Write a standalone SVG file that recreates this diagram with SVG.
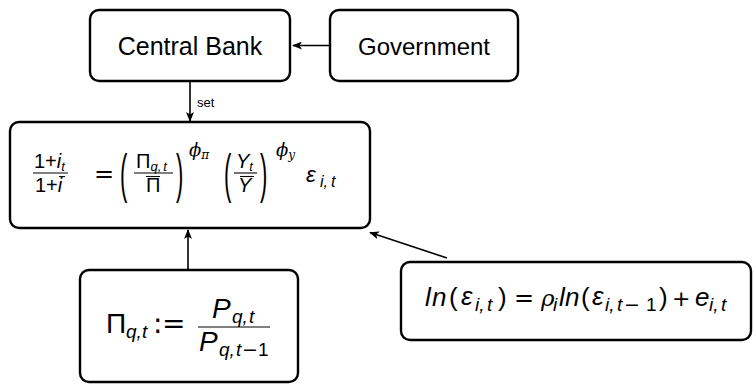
<svg xmlns="http://www.w3.org/2000/svg" width="754" height="385" viewBox="0 0 754 385">
  <defs>
    <marker id="arrow" viewBox="0 0 10 8" refX="9" refY="4" markerWidth="10" markerHeight="8" markerUnits="userSpaceOnUse" orient="auto">
      <path d="M0,0 L10,4 L0,8 L2.5,4 Z" fill="#000"/>
    </marker>
  </defs>
  <style>
    .box { fill: #fff; stroke: #000; stroke-width: 2.4; }
    .edge { fill: none; stroke: #000; stroke-width: 1.6; marker-end: url(#arrow); }
    .lbl { font-family: "Liberation Sans", Arial, sans-serif; fill: #000; }
    .up { font-family: "Liberation Sans", Arial, sans-serif; fill: #000; }
    .it { font-family: "Liberation Sans", Arial, sans-serif; font-style: italic; fill: #000; }
    .op { font-family: "DejaVu Sans", sans-serif; fill: #000; }
    .gk { font-family: "DejaVu Serif", serif; font-style: italic; fill: #000; }
    .bar { stroke: #000; stroke-width: 1.1; }
  </style>

  <!-- connectors -->
  <g id="connectors">
    <line class="edge" x1="330" y1="45.5" x2="293" y2="45.5"/>
    <line class="edge" x1="190" y1="81" x2="190" y2="121"/>
    <text class="lbl" x="197" y="107" font-size="13">set</text>
    <line class="edge" x1="188" y1="270" x2="188" y2="230"/>
    <line class="edge" x1="447" y1="258" x2="370" y2="232.5"/>
  </g>

  <!-- Central Bank -->
  <g id="central-bank">
    <rect class="box" x="90" y="10" width="200" height="71" rx="9"/>
    <text class="lbl" x="190" y="55" font-size="25" text-anchor="middle">Central Bank</text>
  </g>

  <!-- Government -->
  <g id="government">
    <rect class="box" x="330" y="10" width="188" height="71" rx="9"/>
    <text class="lbl" x="424" y="55" font-size="24" text-anchor="middle">Government</text>
  </g>

  <!-- Taylor rule -->
  <g id="taylor-rule">
    <rect class="box" x="10" y="122" width="360" height="106" rx="9"/>
    <!-- (1+i_t)/(1+i bar) -->
    <text font-size="20"><tspan class="up" x="34" y="168">1+</tspan><tspan class="it">i</tspan><tspan class="it" font-size="13" dy="3">t</tspan></text>
    <line class="bar" x1="33" y1="173" x2="68" y2="173"/>
    <text font-size="20"><tspan class="up" x="35" y="192">1+</tspan><tspan class="it">i</tspan></text>
    <line class="bar" x1="59" y1="176.5" x2="65" y2="176.5"/>
    <text class="op" x="94" y="182" font-size="24">=</text>
    <!-- (Pi_{q,t} / Pi bar)^phi_pi -->
    <text class="up" font-size="22" transform="translate(120,192) scale(1,2.4)">(</text>
    <text font-size="20"><tspan class="up" x="136" y="168">Π</tspan><tspan class="it" font-size="13" dy="3">q,</tspan><tspan class="it" font-size="13" dx="2">t</tspan></text>
    <line class="bar" x1="134" y1="173" x2="173" y2="173"/>
    <text class="up" x="146" y="192" font-size="20">Π</text>
    <line class="bar" x1="146" y1="176.5" x2="160" y2="176.5"/>
    <text class="up" font-size="22" transform="translate(176,192) scale(1,2.4)">)</text>
    <text font-size="18"><tspan class="gk" x="189" y="156">ϕ</tspan><tspan class="gk" font-size="12" dy="3">π</tspan></text>
    <!-- (Y_t / Y bar)^phi_y -->
    <text class="up" font-size="22" transform="translate(224,192) scale(1,2.4)">(</text>
    <text font-size="20"><tspan class="it" x="236" y="168">Y</tspan><tspan class="it" font-size="13" dy="3">t</tspan></text>
    <line class="bar" x1="234" y1="173" x2="257" y2="173"/>
    <text class="it" x="238" y="192" font-size="20">Y</text>
    <line class="bar" x1="240" y1="176.5" x2="254" y2="176.5"/>
    <text class="up" font-size="22" transform="translate(260,192) scale(1,2.4)">)</text>
    <text font-size="18"><tspan class="gk" x="276" y="156">ϕ</tspan><tspan class="gk" font-size="12" dy="3">y</tspan></text>
    <!-- eps_{i,t} -->
    <text font-size="22"><tspan class="it" x="306" y="182">ε</tspan><tspan class="it" font-size="16" x="320" dy="5">i,</tspan><tspan class="it" font-size="16" x="331">t</tspan></text>
  </g>

  <!-- inflation definition -->
  <g id="inflation">
    <rect class="box" x="80" y="270" width="218" height="112" rx="9"/>
    <text font-size="28"><tspan class="up" x="106" y="333">Π</tspan><tspan class="it" font-size="19" x="126" dy="5">q,</tspan><tspan class="it" font-size="19" x="142">t</tspan></text>
    <text class="op" x="153" y="333" font-size="28">:</text>
    <text class="op" x="162" y="333" font-size="28">=</text>
    <text font-size="28"><tspan class="it" x="212" y="318">P</tspan><tspan class="it" font-size="19" x="232" dy="5">q,</tspan><tspan class="it" font-size="19" x="249">t</tspan></text>
    <line class="bar" x1="198" y1="327" x2="270" y2="327" stroke-width="1.3"/>
    <text font-size="28"><tspan class="it" x="199" y="351">P</tspan><tspan class="it" font-size="19" x="219" dy="5">q,</tspan><tspan class="it" font-size="19" x="236">t</tspan><tspan class="op" font-size="19" x="242">−</tspan><tspan class="up" font-size="19" x="258">1</tspan></text>
  </g>

  <!-- shock process -->
  <g id="shock">
    <rect class="box" x="401" y="262" width="350" height="78" rx="9"/>
    <text font-size="26">
      <tspan class="it" x="425" y="306">l</tspan>
      <tspan class="it" x="432" y="306">n</tspan>
      <tspan class="up" x="449" y="306">(</tspan>
      <tspan class="it" x="461" y="305">ε</tspan>
      <tspan class="it" font-size="19" x="475" y="311">i,</tspan>
      <tspan class="it" font-size="19" x="487" y="311">t</tspan>
      <tspan class="up" x="498" y="306">)</tspan>
      <tspan class="op" font-size="24" x="514" y="306">=</tspan>
      <tspan class="gk" font-size="23" x="541" y="306">ρ</tspan>
      <tspan class="it" font-size="19" x="553" y="311">i</tspan>
      <tspan class="it" x="559" y="306">l</tspan>
      <tspan class="it" x="565" y="306">n</tspan>
      <tspan class="up" x="581" y="306">(</tspan>
      <tspan class="it" x="592" y="305">ε</tspan>
      <tspan class="it" font-size="19" x="605" y="311">i,</tspan>
      <tspan class="it" font-size="19" x="617" y="311">t</tspan>
      <tspan class="op" font-size="19" x="624" y="311">−</tspan>
      <tspan class="up" font-size="19" x="646" y="311">1</tspan>
      <tspan class="up" x="659" y="306">)</tspan>
      <tspan class="op" font-size="22" x="672" y="306">+</tspan>
      <tspan class="it" x="695" y="306">e</tspan>
      <tspan class="it" font-size="19" x="709" y="311">i,</tspan>
      <tspan class="it" font-size="19" x="721" y="311">t</tspan>
    </text>
  </g>
</svg>
